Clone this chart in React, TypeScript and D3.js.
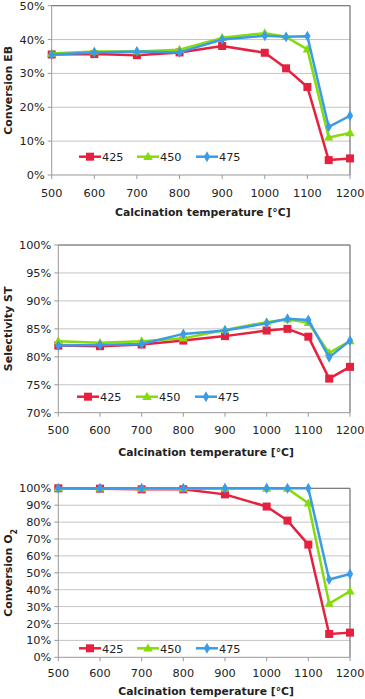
import * as d3 from 'd3';

// calcination temperatures [°C]
const temps = [500, 600, 700, 800, 900, 1000, 1050, 1100, 1150, 1200];
const xTicks = [500, 600, 700, 800, 900, 1000, 1100, 1200];
const seriesNames = ['425', '450', '475'];
const colors = ['#E5213F', '#84DC0B', '#3A9BE6'];

// Conversion EB [%]
const ebTicks = [0, 10, 20, 30, 40, 50];
const eb425 = [35.6, 35.7, 35.4, 36.2, 38.1, 36.1, 31.5, 26.0, 4.4, 4.9];
const eb450 = [35.9, 36.5, 36.5, 37.0, 40.5, 41.9, 40.8, 37.1, 11.1, 12.4];
const eb475 = [35.6, 36.2, 36.5, 36.2, 40.0, 41.1, 40.8, 41.0, 14.2, 17.5];

// Selectivity ST [%]
const stTicks = [70, 75, 80, 85, 90, 95, 100];
const st425 = [82.0, 81.9, 82.2, 82.9, 83.7, 84.7, 85.0, 83.6, 76.1, 78.2];
const st450 = [82.8, 82.5, 82.8, 83.3, 84.8, 86.2, 86.7, 86.1, 80.7, 82.8];
const st475 = [82.0, 82.1, 82.3, 84.1, 84.7, 86.0, 86.8, 86.6, 79.9, 82.9];

// Conversion O2 [%]
const o2Ticks = [0, 10, 20, 30, 40, 50, 60, 70, 80, 90, 100];
const o2425 = [100, 99.8, 99.4, 99.4, 96.4, 89.2, 80.9, 66.7, 13.8, 14.6];
const o2450 = [100, 100, 99.8, 99.8, 99.9, 99.9, 99.8, 91.1, 31.8, 39.1];
const o2475 = [100, 100, 100, 100, 100, 100, 100, 100, 46.0, 49.3];

const FONT = '"DejaVu Sans", Verdana, sans-serif';

function Marker({ kind, x, y, color }: { kind: number; x: number; y: number; color: string }) {
  if (kind === 0) {
    return <rect x={x - 4} y={y - 4} width={8} height={8} fill={color} />;
  }
  if (kind === 1) {
    const s = d3.symbol().type(d3.symbolTriangle).size(38)();
    return <path d={s || ''} transform={`translate(${x},${y + 0.5})`} fill={color} />;
  }
  const s = d3.symbol().type(d3.symbolDiamond).size(34)();
  return <path d={s || ''} transform={`translate(${x},${y})`} fill={color} />;
}

function Panel({ top, bottom, left, right, yTicks, series, title, legendY, legendX, tickY, titleY }: any) {
  const x = d3.scaleLinear().domain([500, 1200]).range([left, right]);
  const y = d3.scaleLinear().domain([yTicks[0], yTicks[yTicks.length - 1]]).range([bottom, top]);
  const line = d3.line<number>().x((_, i) => x(temps[i])).y(d => y(d));
  const mid = (top + bottom) / 2;
  return (
    <g>
      {yTicks.slice(1).map((t: number) => (
        <line key={'g' + t} x1={left} x2={right} y1={y(t)} y2={y(t)} stroke="#c4c4c4" strokeWidth={1} />
      ))}
      <line x1={left} x2={right} y1={top} y2={top} stroke="#6a6a6a" />
      <line x1={right} x2={right} y1={top} y2={bottom} stroke="#555" />
      <line x1={left} x2={left} y1={top} y2={bottom} stroke="#999" />
      <line x1={left} x2={right} y1={bottom} y2={bottom} stroke="#999" />
      {yTicks.map((t: number) => (
        <g key={'y' + t}>
          <line x1={left - 4} x2={left} y1={y(t)} y2={y(t)} stroke="#999" />
          <text x={left - 7} y={y(t) + 4} textAnchor="end" fontSize={11.3} fontFamily={FONT} fill="#222">
            {t}%
          </text>
        </g>
      ))}
      {xTicks.map(t => (
        <g key={'x' + t}>
          <line x1={x(t)} x2={x(t)} y1={bottom} y2={bottom + 4} stroke="#999" />
          <text x={x(t)} y={tickY} textAnchor="middle" fontSize={11.3} fontFamily={FONT} fill="#222">
            {t}
          </text>
        </g>
      ))}
      <text x={(left + right) / 2 + 2} y={titleY} textAnchor="middle" fontSize={10.8} fontWeight="bold" fontFamily={FONT} fill="#222">
        Calcination temperature [°C]
      </text>
      <text transform={`translate(12,${mid}) rotate(-90)`} textAnchor="middle" fontSize={11} fontWeight="bold" fontFamily={FONT} fill="#222">
        {title}
      </text>
      {series.map((vals: number[], k: number) => (
        <g key={'s' + k}>
          <path d={line(vals) || ''} fill="none" stroke={colors[k]} strokeWidth={2.5} strokeLinejoin="round" />
          {vals.map((v, i) => (
            <Marker key={i} kind={k} x={x(temps[i])} y={y(v)} color={colors[k]} />
          ))}
        </g>
      ))}
      {seriesNames.map((n, k) => (
        <g key={'l' + n}>
          <line x1={legendX[k] - 11} x2={legendX[k] + 11} y1={legendY} y2={legendY} stroke={colors[k]} strokeWidth={2.5} />
          <Marker kind={k} x={legendX[k]} y={legendY} color={colors[k]} />
          <text x={legendX[k] + 12} y={legendY + 4.5} fontSize={11.3} fontFamily={FONT} fill="#222">
            {n}
          </text>
        </g>
      ))}
    </g>
  );
}

export default function App() {
  return (
    <svg width={365} height={699} style={{ position: 'absolute', left: 0, top: 0, background: '#fff' }}>
      <Panel top={5.7} bottom={175} left={51.7} right={350} yTicks={ebTicks} tickY={197} titleY={216}
        series={[eb425, eb450, eb475]} title="Conversion EB" legendY={156.7} legendX={[90, 148, 207]} />
      <Panel top={245} bottom={412.7} left={58.3} right={350} yTicks={stTicks} tickY={434} titleY={455.5}
        series={[st425, st450, st475]} title="Selectivity ST" legendY={396.7} legendX={[88, 147, 206]} />
      <Panel top={488.3} bottom={657.3} left={58.3} right={350} yTicks={o2Ticks} tickY={677} titleY={694.5}
        series={[o2425, o2450, o2475]} legendY={648.3} legendX={[90, 148, 207]}
        title={<>Conversion O<tspan baselineShift="sub" fontSize={8}>2</tspan></>} />
    </svg>
  );
}
